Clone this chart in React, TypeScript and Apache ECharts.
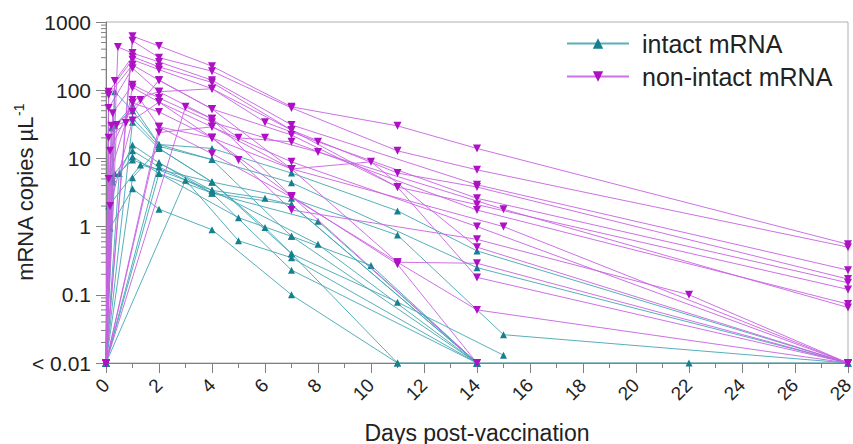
import React, { useEffect, useRef } from 'react';
import * as echarts from 'echarts';

// Tick labels
const yTickLabels = ['< 0.01', '0.1', '1', '10', '100', '1000'];
const yMinorTicks = [
  0.02, 0.03, 0.04, 0.05, 0.06, 0.07, 0.08, 0.09,
  0.2, 0.3, 0.4, 0.5, 0.6, 0.7, 0.8, 0.9,
  2, 3, 4, 5, 6, 7, 8, 9,
  20, 30, 40, 50, 60, 70, 80, 90,
  200, 300, 400, 500, 600, 700, 800, 900,
];

// intact mRNA per subject: [day, copies/µL]; 0.01 = below detection
const intactProfiles: number[][][] = [
  [[0, 0.01], [0.33, 95], [1, 50], [2, 16], [4, 14], [7, 6.1], [11, 1.7], [14, 0.44], [28, 0.01]],
  [[0, 0.01], [0.2, 28], [1, 39], [2, 15], [4, 9.6], [7, 4.4], [14, 0.25], [28, 0.01]],
  [[0, 0.01], [1, 34], [2, 14], [4, 4.5], [7, 2.6], [11, 0.75], [15, 0.026], [28, 0.01]],
  [[0, 0.01], [0.5, 6], [1, 15.7], [2, 8.6], [4, 3.4], [6, 2.6], [7, 2.1], [14, 0.01]],
  [[0, 0.01], [0.33, 6], [1, 13], [2, 7.5], [4, 3.1], [8, 1.2], [14, 0.01]],
  [[0, 0.01], [0.25, 4.5], [1, 10.6], [2, 6], [5, 1.35], [7, 0.72], [10, 0.27], [14, 0.01]],
  [[0, 0.01], [0.1, 2], [1.3, 8], [4, 4.5], [6, 0.97], [7, 0.4], [11, 0.078], [15, 0.013]],
  [[0, 0.01], [0.15, 0.95], [1, 3.6], [2, 1.8], [4, 0.9], [7, 0.1], [11, 0.01], [22, 0.01], [28, 0.01]],
  [[0, 0.01], [3, 4.8], [5, 0.62], [7, 0.35], [14, 0.01]],
  [[0, 0.01], [2, 6], [4, 3.1], [7, 0.23], [14, 0.01]],
  [[0, 0.01], [0.25, 5], [1, 9.5], [4, 3.4], [8, 0.55], [14, 0.01]],
  [[0, 0.01], [1, 5.2], [2, 14], [4, 4.5], [7, 0.4], [11, 0.01]],
  [[0, 0.01], [2, 8.6], [4, 3.1], [7, 2.1], [14, 0.01]],
  [[0, 0.01], [0.33, 30], [1, 60], [2, 16], [4, 9.6], [7, 0.72], [14, 0.01]],
];

// non-intact mRNA per subject
const nonIntactProfiles: number[][][] = [
  [[0, 0.01], [1, 620], [2, 445], [4, 225], [7, 57], [11, 30], [14, 14], [28, 0.55]],
  [[0, 0.01], [1, 530], [2, 300], [4, 190], [7, 55], [11, 12.9], [14, 6.8], [28, 0.5]],
  [[0, 0.01], [0.45, 430], [1, 350], [2, 260], [4, 140], [7, 31], [14, 4.1], [28, 0.23]],
  [[0, 0.01], [0.33, 136], [1, 310], [2, 220], [4, 130], [7, 26], [11, 6.1], [14, 3.8], [28, 0.17]],
  [[0, 0.01], [0.1, 95], [1, 280], [2, 200], [4, 105], [6, 34], [8, 17.5], [14, 2.6], [28, 0.15]],
  [[0, 0.01], [0.1, 85], [1, 235], [2, 140], [4, 53], [7, 22], [11, 3.8], [14, 2.1], [28, 0.12]],
  [[0, 0.01], [0.1, 55], [1, 210], [2, 95], [4, 38], [5, 20], [7, 17.5], [14, 1.75], [28, 0.073]],
  [[0, 0.01], [0.25, 46], [1, 120], [2, 77], [4, 34], [6, 20], [8, 12.4], [15, 1.8], [28, 0.065]],
  [[0, 0.01], [0.1, 20], [0.75, 33], [1, 110], [2, 67], [4, 29], [7, 8.9], [14, 1.0], [28, 0.01]],
  [[0, 0.01], [0.15, 13], [1, 65], [2, 48], [4, 20], [7, 7], [15, 1.0], [28, 0.01]],
  [[0, 0.01], [0.4, 31], [1.3, 72], [2, 29], [4, 11.7], [7, 2.7], [11, 0.3], [14, 0.06], [28, 0.01]],
  [[0, 0.01], [3, 57], [4, 38], [7, 2.8], [11, 0.28], [14, 0.01]],
  [[0, 0.01], [2, 29], [4, 20], [5, 9.5], [7, 1.75], [14, 0.65], [22, 0.1], [28, 0.01]],
  [[0, 0.01], [2, 24], [4, 29], [7, 7], [10, 8.9], [14, 0.5], [28, 0.01]],
  [[0, 0.01], [0.2, 30], [1, 48], [2, 140], [4, 53], [7, 7], [11, 0.3], [14, 0.29], [28, 0.01]],
  [[0, 0.01], [0.1, 5], [1, 72], [2, 95], [4, 105], [7, 26], [11, 3.8], [14, 0.18], [28, 0.01]],
  [[0, 0.01], [0.15, 2], [1, 36], [2, 67], [4, 20], [7, 2.8], [14, 0.01]],
];

const INTACT = 'intact mRNA';
const NON_INTACT = 'non-intact mRNA';
const tealLine = '#45a6b3';
const tealMark = '#16808e';
const magLine = '#c862e2';
const magMark = '#ae10c4';
const FONT = '"Liberation Sans", Arial, sans-serif';

export default function App() {
  const ref = useRef<HTMLDivElement>(null);
  useEffect(() => {
    if (!ref.current) return;
    const chart = echarts.init(ref.current, null, { renderer: 'svg' });

    const intactSeries = intactProfiles.map((d) => ({
      name: INTACT,
      type: 'line',
      data: d,
      symbol: 'triangle',
      symbolSize: 7,
      lineStyle: { color: tealLine, width: 1, opacity: 0.9 },
      itemStyle: { color: tealMark },
      z: 2,
    }));
    const nonIntactSeries = nonIntactProfiles.map((d) => ({
      name: NON_INTACT,
      type: 'line',
      data: d,
      symbol: 'triangle',
      symbolRotate: 180,
      symbolSize: 8,
      lineStyle: { color: magLine, width: 1, opacity: 0.9 },
      itemStyle: { color: magMark },
      z: 3,
    }));

    const minorTickSeries = {
      name: 'yMinorTicks',
      type: 'custom',
      silent: true,
      clip: false,
      z: 1,
      data: yMinorTicks.map((v) => [0, v]),
      renderItem: (_p: any, api: any) => {
        const pt = api.coord([0, api.value(1)]);
        return {
          type: 'line',
          shape: { x1: pt[0] - 5, y1: pt[1], x2: pt[0], y2: pt[1] },
          style: { stroke: '#808080', lineWidth: 1 },
        };
      },
    };

    chart.setOption({
      animation: false,
      textStyle: { fontFamily: FONT },
      grid: {
        left: 106,
        right: 5,
        top: 22,
        bottom: 81,
        show: true,
        borderColor: '#b0b0b0',
        borderWidth: 1,
        containLabel: false,
        outerBoundsMode: 'none',
      },
      legend: {
        data: [INTACT, NON_INTACT],
        orient: 'vertical',
        left: 561,
        top: 26,
        itemWidth: 62,
        itemHeight: 13,
        itemGap: 8,
        textStyle: { fontSize: 25, color: '#222', fontFamily: FONT, padding: [0, 0, 0, 8] },
      },
      xAxis: {
        type: 'value',
        min: 0,
        max: 28,
        interval: 2,
        name: 'Days post-vaccination',
        nameLocation: 'middle',
        nameGap: 58,
        nameMoveOverlap: false,
        nameTextStyle: { fontSize: 23, color: '#222', fontFamily: FONT },
        axisLine: { lineStyle: { color: '#808080' } },
        axisTick: { length: 10, lineStyle: { color: '#808080' } },
        minorTick: { show: true, splitNumber: 2, length: 5, lineStyle: { color: '#808080' } },
        splitLine: { show: false },
        axisLabel: { rotate: 45, fontSize: 19, color: '#222', margin: 19, fontFamily: FONT },
      },
      yAxis: {
        type: 'log',
        logBase: 10,
        min: 0.01,
        max: 1000,
        splitNumber: 5,
        name: '{a|mRNA copies µL}{s|-1}',
        nameLocation: 'middle',
        nameGap: 68,
        nameMoveOverlap: false,
        nameRotate: 90,
        nameTextStyle: {
          color: '#222',
          fontFamily: FONT,
          rich: {
            a: { fontSize: 22, color: '#222', fontFamily: FONT, lineHeight: 26 },
            s: { fontSize: 14, color: '#222', fontFamily: FONT, verticalAlign: 'top', lineHeight: 14 },
          },
        },
        axisLine: { show: true, lineStyle: { color: '#808080' } },
        axisTick: { show: true, length: 10, lineStyle: { color: '#808080' } },
        splitLine: { show: false },
        axisLabel: {
          fontSize: 21,
          color: '#222',
          margin: 15,
          fontFamily: FONT,
          formatter: (_v: number, i: number) => yTickLabels[i] ?? '',
        },
      },
      series: [minorTickSeries, ...intactSeries, ...nonIntactSeries],
    });

    return () => chart.dispose();
  }, []);

  return (
    <div
      ref={ref}
      style={{ position: 'absolute', left: 0, top: 0, width: 853, height: 444, background: '#fff' }}
    />
  );
}
